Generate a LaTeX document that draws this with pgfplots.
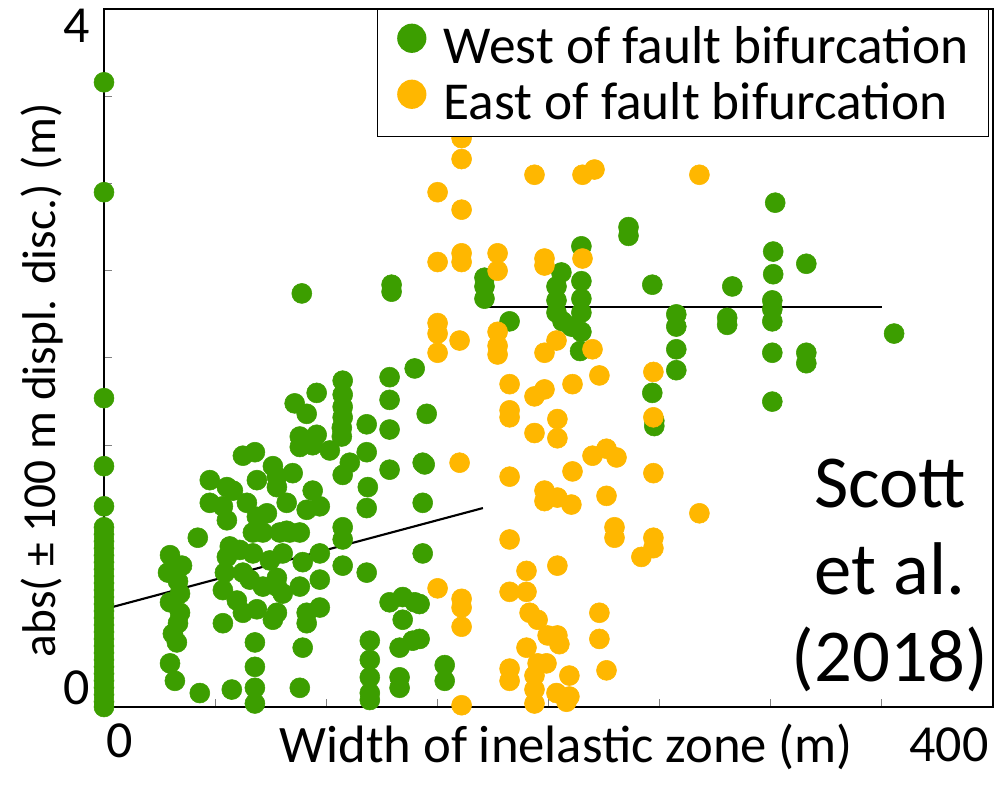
\documentclass[border=0pt]{standalone}
\usepackage{pgfplots}
\pgfplotsset{compat=1.18}
\usepackage{pgfplotstable}
\usepackage{fontspec}
\setmainfont{Carlito}
\definecolor{wgreen}{RGB}{60,158,0}
\definecolor{eorange}{RGB}{255,183,0}

\pgfplotstableread{
x y
0 3.58
0 2.95
0 1.77
0 1.38
0 1.15
0 1.03
0 0.99
0 0.95
0 0.91
0 0.87
0 0.83
0 0.79
0 0.75
0 0.71
0 0.67
0 0.63
0 0.59
0 0.55
0 0.51
0 0.47
0 0.43
0 0.39
0 0.35
0 0.31
0 0.27
0 0.23
0 0.19
0 0.15
0 0.11
0 0.07
0 0.03
0 0.00
29.7 0.87
35.1 0.81
28.8 0.77
33.3 0.72
34.2 0.65
29.7 0.60
34.2 0.54
33.3 0.48
31.0 0.42
32.8 0.37
29.7 0.25
31.9 0.15
42.2 0.97
53.5 0.48
43.1 0.08
57.5 0.10
67.9 0.37
67.9 0.23
67.9 0.11
67.9 0.02
62.5 1.44
67.9 1.46
47.6 1.30
55.3 1.26
58.0 1.24
76.0 1.38
68.8 1.30
77.8 1.26
47.6 1.17
53.5 1.15
55.3 1.07
64.3 1.17
68.8 1.09
73.3 1.11
83.6 1.00
67.0 1.00
71.5 1.00
56.6 0.92
55.3 0.86
61.1 0.90
67.0 0.88
80.4 0.88
54.4 0.77
62.5 0.77
53.5 0.67
59.8 0.61
65.6 0.73
71.5 0.69
77.8 0.74
62.5 0.54
68.8 0.56
76.0 0.50
80.4 0.65
77.8 0.54
82.2 1.01
82.2 1.17
89.0 2.37
129.4 2.42
129.4 2.38
107.4 1.87
107.4 1.79
107.4 1.72
107.4 1.66
107.0 1.60
107.0 1.55
95.7 1.80
85.8 1.74
91.2 1.68
88.1 1.55
88.1 1.49
95.7 1.56
93.9 1.50
101.6 1.47
118.2 1.62
128.5 1.89
128.5 1.76
128.5 1.59
139.8 1.94
145.2 1.68
143.4 1.40
128.5 1.36
118.2 1.46
110.6 1.40
107.4 1.33
118.7 1.26
118.2 1.14
143.4 1.17
143.4 0.88
107.4 1.03
107.4 0.96
107.4 0.81
118.2 0.77
97.1 0.88
97.1 0.73
97.1 0.57
88.1 1.00
89.4 0.83
88.1 0.69
77.8 1.32
84.9 1.34
93.9 1.24
97.1 1.15
91.2 1.13
79.1 1.00
74.6 0.84
77.8 0.69
91.2 0.54
91.2 0.48
89.4 0.34
88.1 0.11
119.6 0.38
119.6 0.27
119.6 0.17
119.6 0.08
119.6 0.04
128.5 0.60
134.4 0.63
139.8 0.60
134.4 0.50
138.9 0.38
133.0 0.34
133.0 0.17
133.0 0.11
153.3 0.24
153.3 0.15
144.3 1.39
142.0 0.59
142.0 0.39
214.8 2.64
171.2 2.46
171.2 2.41
171.2 2.34
182.5 2.21
205.8 2.49
203.6 2.41
203.6 2.33
203.6 2.26
206.3 2.21
214.8 2.44
214.8 2.34
214.8 2.26
214.8 2.15
214.2 2.04
210.3 2.18
236.0 2.75
236.0 2.70
246.7 2.42
282.7 2.41
257.5 2.25
257.5 2.18
257.5 2.05
257.5 1.93
280.4 2.23
280.4 2.19
246.7 1.80
247.6 1.64
247.6 1.61
302.0 2.89
301.1 2.61
316.0 2.54
301.1 2.48
300.7 2.33
300.7 2.28
300.7 2.21
300.7 2.03
316.0 2.03
316.0 1.97
300.7 1.75
355.5 2.14
}\westdata

\pgfplotstableread{
x y
150.1 2.55
160.9 2.60
160.9 2.55
150.1 2.20
150.1 2.14
150.1 2.03
160.0 2.10
160.0 1.40
150.1 0.68
160.9 0.62
160.9 0.57
160.9 0.46
160.9 0.01
160.9 3.26
160.9 3.14
150.1 2.95
160.9 2.85
193.7 3.05
215.3 3.05
220.7 3.08
177.1 2.60
177.1 2.50
198.2 2.57
198.2 2.53
215.3 2.57
177.1 2.15
177.1 2.07
177.1 2.02
198.2 2.03
203.6 2.10
219.8 2.05
222.9 1.90
182.5 1.85
182.5 1.70
182.5 1.66
193.7 1.78
198.2 1.82
193.7 1.57
204.0 1.65
204.0 1.54
210.8 1.85
182.5 1.32
210.8 1.35
219.8 1.44
226.1 1.48
230.6 1.43
198.2 1.24
198.2 1.18
204.0 1.20
210.3 1.16
226.1 1.21
229.7 1.03
229.7 0.97
182.5 0.96
204.0 0.81
190.1 0.78
182.5 0.66
190.1 0.66
191.5 0.54
195.1 0.50
199.6 0.41
204.0 0.41
204.9 0.36
190.1 0.34
195.1 0.25
199.1 0.25
182.5 0.22
182.5 0.15
193.7 0.18
193.7 0.10
193.7 0.02
203.6 0.08
208.1 0.03
209.4 0.06
209.4 0.18
222.9 0.54
222.9 0.39
226.1 0.21
267.9 3.05
247.2 1.92
247.2 1.66
247.2 1.34
267.9 1.11
241.8 0.86
247.2 0.97
247.2 0.91
}\eastdata

\begin{document}
\begin{tikzpicture}
\path[use as bounding box] (-78pt,-60pt) rectangle (678pt,530.25pt);
\begin{axis}[
  at={(0,0)}, anchor=south west,
  scale only axis, width=666.75pt, height=523.5pt,
  xmin=0, xmax=400, ymin=0, ymax=4,
  xtick={0,50,...,400}, ytick={0,0.5,...,4},
  xticklabels={}, yticklabels={},
  tick align=inside, xtick pos=left, ytick pos=left,
  major tick length=6pt,
  tick style={draw=gray, line width=0.75pt},
  axis line style={line width=1.3pt, black},
  clip=false, axis on top,
  xlabel={Width of inelastic zone (m)},
  ylabel={abs( ± 100 m displ. disc.) (m)},
  xlabel style={font=\fontsize{39.5}{47}\selectfont, at={(axis description cs:0.52,-0.080)}, anchor=base},
  ylabel style={font=\fontsize{35.5}{43}\selectfont, at={(axis description cs:-0.055,0.468)}, anchor=base},
  legend cell align=left,
  legend style={at={(0.996,1)}, anchor=north east, draw=black, line width=0.9pt, fill=white,
    font=\fontsize{40}{48}\selectfont, inner xsep=15pt, inner ysep=5.5pt, row sep=0pt, column sep=13.5pt,
    nodes={inner sep=0pt, text height=35pt, text depth=7pt}},
  legend image code/.code={\draw[#1, mark size=10.5pt] plot coordinates {(0pt,5pt)};},
]
\addplot[only marks, mark=*, color=wgreen, mark size=7.5pt] table {\westdata};
\addlegendentry{West of fault bifurcation}
\addplot[only marks, mark=*, color=eorange, mark size=7.5pt] table {\eastdata};
\addlegendentry{East of fault bifurcation}
\addplot[black, line width=1.6pt, forget plot] coordinates {(0,0.56) (170.5,1.14)};
\addplot[black, line width=1.6pt, forget plot] coordinates {(170.5,2.29) (350,2.29)};
\end{axis}
\begin{scope}[every node/.style={inner sep=0pt, font=\fontsize{39}{47}\selectfont}]
\node[anchor=base] at (11.6pt,-38.25pt) {0};
\node[anchor=base] at (633.75pt,-41.25pt) {400};
\node[anchor=base east] at (-10.5pt,498pt) {4};
\node[anchor=base east] at (-10.5pt,1.5pt) {0};
\end{scope}
\begin{scope}[every node/.style={inner sep=0pt, font=\fontsize{56}{67}\selectfont, anchor=base}]
\node at (589.5pt,149.25pt) {Scott};
\node at (589.5pt,84pt) {et al.};
\node at (589.5pt,18.75pt) {(2018)};
\end{scope}
\end{tikzpicture}
\end{document}
